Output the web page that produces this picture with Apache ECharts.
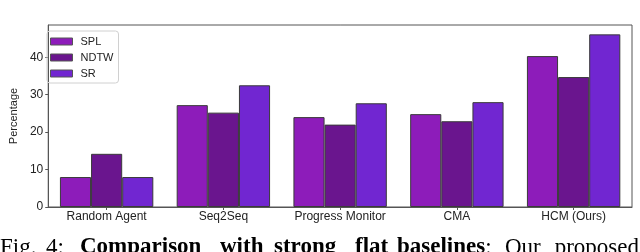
<!DOCTYPE html>
<html><head><meta charset="utf-8">
<script src="https://cdn.jsdelivr.net/npm/echarts@6/dist/echarts.min.js"></script>
<style>html,body{margin:0;padding:0;background:#fff}#c{width:640px;height:252px}</style>
</head><body><div id="c"></div>
<script>
const categories = ['Random Agent','Seq2Seq','Progress Monitor','CMA','HCM (Ours)'];
const splValues = [8.0, 27.2, 24.0, 24.8, 40.3];
const ndtwValues = [14.2, 25.2, 22.0, 22.9, 34.7];
const srValues = [8.0, 32.5, 27.7, 28.0, 46.1];
const yTicks = [0,10,20,30,40];
const seriesNames = ['SPL','NDTW','SR'];
const colors = ['#8d1cba','#6a158e','#7126d1'];
const captionWords = [
  ['Fig.',0,false],['4:',46,false],['Comparison',80,true],['with',220,true],
  ['strong',274,true],['flat',355,true],['baselines',397,true],['Our',505,false]
];

const ctx = document.createElement('canvas').getContext('2d');
ctx.font = 'bold 23px "Liberation Serif"';
const bw = ctx.measureText('baselines').width;
ctx.font = '23px "Liberation Serif"';
const pw = ctx.measureText('proposed').width;
const words = captionWords.concat([[':',397+bw,false],['proposed',639-pw,false]]);

const chart = echarts.init(document.getElementById('c'), null, {renderer:'canvas'});
const font = 'Liberation Sans';
const graphics = words.map(([w,x,b])=>({
  type:'text', left:x, top:236,
  style:{text:w, fontFamily:'Liberation Serif', fontSize:23, fontWeight:b?'bold':'normal', fill:'#000'}
}));
chart.setOption({
  animation:false,
  textStyle:{fontFamily:font},
  grid:{left:41,top:25,right:8,bottom:45,show:true,borderColor:'#555',borderWidth:1,containLabel:false},
  legend:{
    left:47, top:31, orient:'vertical', data:seriesNames, icon:'rect',
    itemWidth:22, itemHeight:7, itemGap:5,
    padding:[5,5,4,3], borderColor:'#d0d0d0', borderWidth:1, borderRadius:3,
    itemStyle:{borderColor:'#555',borderWidth:1},
    textStyle:{fontFamily:font,fontSize:11,color:'#222',padding:[0,0,0,3]}
  },
  xAxis:{
    type:'category', data:categories,
    axisLine:{lineStyle:{color:'#555'}},
    axisTick:{show:true,alignWithLabel:true,length:3,lineStyle:{color:'#555'}},
    axisLabel:{fontFamily:font,fontSize:12,color:'#222',margin:4,interval:0}
  },
  yAxis:{
    type:'value', min:0, max:48.6,
    name:'Percentage', nameLocation:'middle', nameGap:28,
    nameTextStyle:{fontFamily:font,fontSize:11,color:'#222'},
    axisLine:{show:true,lineStyle:{color:'#555'}},
    axisTick:{show:true,length:3,lineStyle:{color:'#555'},customValues:yTicks},
    axisLabel:{fontFamily:font,fontSize:12,color:'#222',margin:5,customValues:yTicks},
    splitLine:{show:false}
  },
  series:[splValues,ndtwValues,srValues].map((d,i)=>({
    name:seriesNames[i], type:'bar', data:d,
    barGap:'0%', barCategoryGap:'20%',
    itemStyle:{color:colors[i],borderColor:'#3a3a3a',borderWidth:1}
  })),
  graphic:graphics
});
</script></body></html>
